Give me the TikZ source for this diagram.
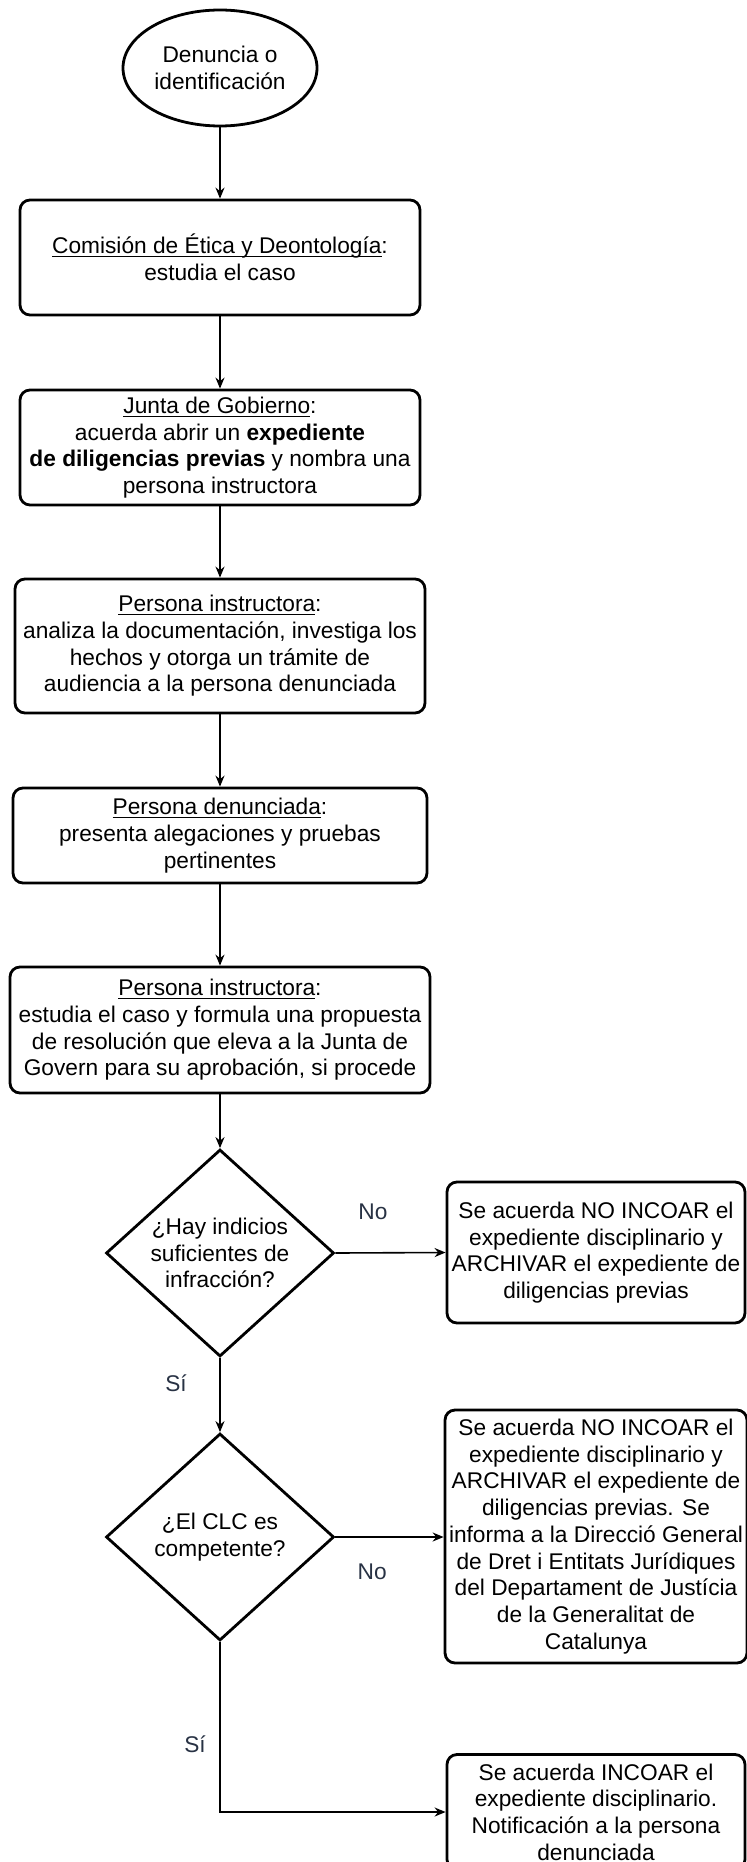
\documentclass[tikz,border=0pt]{standalone}
\usepackage{fontspec}
\setmainfont{Liberation Sans}
\usetikzlibrary{positioning,arrows.meta,shapes.geometric}
\definecolor{labelgray}{RGB}{40,50,68}
\newcommand{\undl}[1]{\leavevmode\setbox0\hbox{#1}\rlap{\rule[-1.6pt]{\wd0}{0.5pt}}\box0}

\begin{document}
\begin{tikzpicture}[x=0.5pt,y=-0.5pt,>={Stealth[length=5.5pt,width=4.5pt]},
  font=\fontsize{11.35}{13.35}\selectfont,
  stepbox/.style={draw,line width=1.4pt,rounded corners=5pt,align=center,inner sep=2pt},
  choice/.style={draw,diamond,aspect=1.1,line width=1.4pt,align=center,inner sep=0pt,
    minimum width=114pt,minimum height=103.5pt},
  flow/.style={->,line width=0.8pt},
  answer/.style={text=labelgray,inner sep=1pt}]
\useasboundingbox (0,0) rectangle (747,1862);
\node[draw,ellipse,line width=1.4pt,inner sep=1pt,minimum width=97pt,minimum height=58pt,align=center] (start) at (220,68) {Denuncia o\\identificación};
\node[stepbox,minimum width=200pt,minimum height=57.5pt] (etica) at (220,257.5) {\undl{Comisión de Ética y Deontología}:\\estudia el caso};
\node[stepbox,minimum width=200pt,minimum height=57.5pt] (junta) at (220,447.5) {\undl{Junta de Gobierno}:\\acuerda abrir un \textbf{expediente}\\\textbf{de diligencias previas} y nombra una\\persona instructora};
\node[stepbox,minimum width=205pt,minimum height=67pt] (instr) at (220,646) {\undl{Persona instructora}:\\analiza la documentación, investiga los\\hechos y otorga un trámite de\\audiencia a la persona denunciada};
\node[stepbox,minimum width=207pt,minimum height=47.5pt] (denun) at (220,835.5) {\undl{Persona denunciada}:\\presenta alegaciones y pruebas\\pertinentes};
\node[stepbox,minimum width=210pt,minimum height=63pt] (propu) at (220,1030) {\undl{Persona instructora}:\\estudia el caso y formula una propuesta\\de resolución que eleva a la Junta de\\Govern para su aprobación, si procede};
\node[choice] (indicios) at (220,1253) {¿Hay indicios\\suficientes de\\infracción?};
\node[choice] (compet) at (220,1537) {¿El CLC es\\competente?};
\node[stepbox,minimum width=149pt,minimum height=70.5pt] (archiva) at (596,1252.5) {Se acuerda NO INCOAR el\\expediente disciplinario y\\ARCHIVAR el expediente de\\diligencias previas};
\node[stepbox,minimum width=149pt,minimum height=126.5pt] (informa) at (596,1536.5) {Se acuerda NO INCOAR el\\expediente disciplinario y\\ARCHIVAR el expediente de\\diligencias previas. Se\\informa a la Direcció General\\de Dret i Entitats Jurídiques\\del Departament de Justícia\\de la Generalitat de\\Catalunya};
\node[stepbox,minimum width=149pt,minimum height=57.5pt] (incoa) at (596,1812) {Se acuerda INCOAR el\\expediente disciplinario.\\Notificación a la persona\\denunciada};

\draw[flow] (start) -- (etica);
\draw[flow] (etica) -- (junta);
\draw[flow] (junta) -- (instr);
\draw[flow] (instr) -- (denun);
\draw[flow] (denun) -- (propu);
\draw[flow] (propu) -- (indicios);
\draw[flow] (indicios.east) -- (archiva.west) node[answer,pos=0.34,yshift=20.5pt]{No};
\draw[flow] (indicios) -- (compet) node[answer,pos=0.34,xshift=-22pt]{Sí};
\draw[flow] (compet.east) -- (informa.west|-compet.east) node[answer,pos=0.34,yshift=-17.5pt]{No};
\draw[flow] (compet.south) |- (incoa.west) node[answer,pos=0.3,xshift=-12.5pt]{Sí};
\end{tikzpicture}
\end{document}
